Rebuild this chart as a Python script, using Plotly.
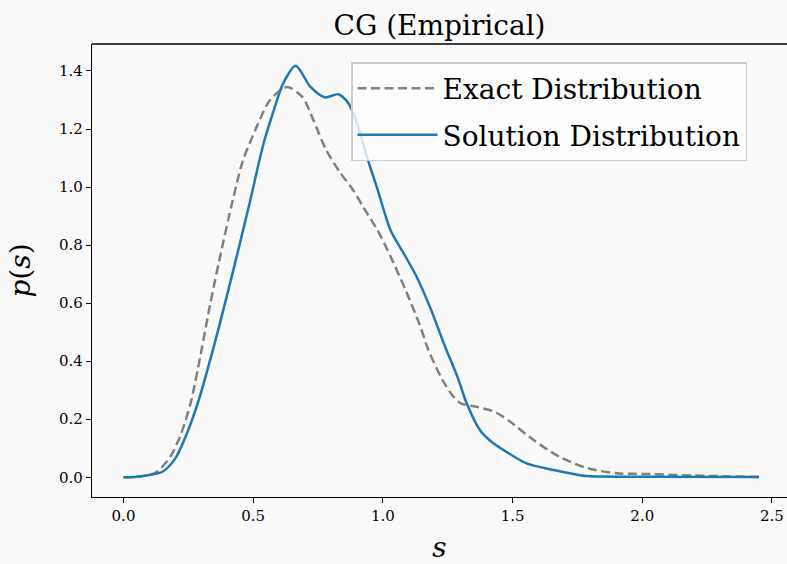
import plotly.graph_objects as go

# Exact distribution (gray dashed)
exact_s = [0.0, 0.05, 0.10, 0.13, 0.18, 0.22, 0.26, 0.30, 0.335, 0.37, 0.42, 0.46, 0.51, 0.565,
           0.63, 0.69, 0.73, 0.78, 0.835, 0.885, 0.925, 0.98, 1.03, 1.09, 1.14, 1.175, 1.23,
           1.27, 1.30, 1.36, 1.43, 1.49, 1.58, 1.68, 1.79, 1.90, 2.03, 2.20, 2.45]
exact_p = [0.0, 0.002, 0.008, 0.02, 0.07, 0.145, 0.26, 0.435, 0.60, 0.75, 0.95, 1.09, 1.20, 1.30,
           1.345, 1.31, 1.235, 1.13, 1.05, 0.99, 0.93, 0.85, 0.76, 0.64, 0.53, 0.44, 0.335,
           0.28, 0.255, 0.243, 0.226, 0.192, 0.129, 0.071, 0.031, 0.014, 0.011, 0.006, 0.001]

# Solution distribution (blue solid)
sol_s = [0.0, 0.05, 0.10, 0.15, 0.20, 0.245, 0.29, 0.327, 0.36, 0.40, 0.443, 0.485, 0.54, 0.58,
         0.616, 0.664, 0.72, 0.777, 0.828, 0.867, 0.90, 0.94, 0.98, 1.03, 1.08, 1.13, 1.18,
         1.24, 1.29, 1.323, 1.374, 1.426, 1.49, 1.554, 1.657, 1.72, 1.786, 2.03, 2.45]
sol_p = [0.0, 0.002, 0.008, 0.019, 0.065, 0.152, 0.266, 0.381, 0.49, 0.63, 0.785, 0.94, 1.15, 1.266,
         1.358, 1.418, 1.346, 1.309, 1.32, 1.289, 1.22, 1.10, 0.99, 0.85, 0.772, 0.691, 0.59,
         0.45, 0.34, 0.255, 0.163, 0.117, 0.08, 0.048, 0.025, 0.014, 0.004, 0.002, 0.001]

x_ticks = [0.0, 0.5, 1.0, 1.5, 2.0, 2.5]
x_tick_labels = ["0.0", "0.5", "1.0", "1.5", "2.0", "2.5"]
y_ticks = [0.0, 0.2, 0.4, 0.6, 0.8, 1.0, 1.2, 1.4]
y_tick_labels = ["0.0", "0.2", "0.4", "0.6", "0.8", "1.0", "1.2", "1.4"]

SERIF = "DejaVu Serif, Liberation Serif, serif"
BG = "#fafafa"

fig = go.Figure()
fig.add_trace(go.Scatter(
    x=exact_s, y=exact_p, mode="lines", name="Exact Distribution", legendgroup="exact",
    line=dict(color="#808080", width=2.5, dash="9px,4.5px", shape="spline", smoothing=0.8),
))
fig.add_trace(go.Scatter(
    x=sol_s, y=sol_p, mode="lines", name="Solution Distribution", legendgroup="sol",
    line=dict(color="#1f77b4", width=2.5, shape="spline", smoothing=0.8),
))

axis_common = dict(
    showgrid=False, zeroline=False, showline=True, linecolor="black", linewidth=1.3,
    ticks="outside", ticklen=5, tickwidth=1.1, tickcolor="black", automargin=False,
    tickfont=dict(family=SERIF, size=15, color="black"),
)

fig.update_layout(
    width=787, height=564,
    paper_bgcolor=BG, plot_bgcolor=BG,
    margin=dict(l=92, r=0, t=44, b=67),
    title=dict(text="CG (Empirical)", x=0.5, xref="paper", xanchor="center",
               y=1, yref="paper", yanchor="bottom", pad=dict(b=9),
               font=dict(family=SERIF, size=28, color="black")),
    xaxis=dict(range=[-0.1214, 2.558], tickvals=x_ticks, ticktext=x_tick_labels,
               title=dict(text="<i>s</i>", font=dict(family=SERIF, size=28, color="black"),
                          standoff=13),
               **axis_common),
    yaxis=dict(range=[-0.068, 1.493], tickvals=y_ticks, ticktext=y_tick_labels,
               title=dict(text="<i>p</i>(<i>s</i>)", font=dict(family=SERIF, size=28, color="black"),
                          standoff=20),
               **axis_common),
    legend=dict(x=0.3727, y=0.96, xanchor="left", yanchor="top",
                bgcolor="rgba(255,255,255,0.8)", bordercolor="#cccccc", borderwidth=1.5,
                font=dict(family=SERIF, size=28, color="black"),
                itemwidth=80, tracegroupgap=7),
    showlegend=True,
)
# top spine
fig.add_shape(type="line", xref="paper", yref="paper", x0=0, x1=1, y0=1, y1=1,
              line=dict(color="black", width=1.3))

fig.write_html(
    "out.html",
    config={"displayModeBar": False},
    post_script="document.body.style.margin='0';document.body.style.overflow='hidden';"
                "document.body.style.background='#fafafa';",
)
